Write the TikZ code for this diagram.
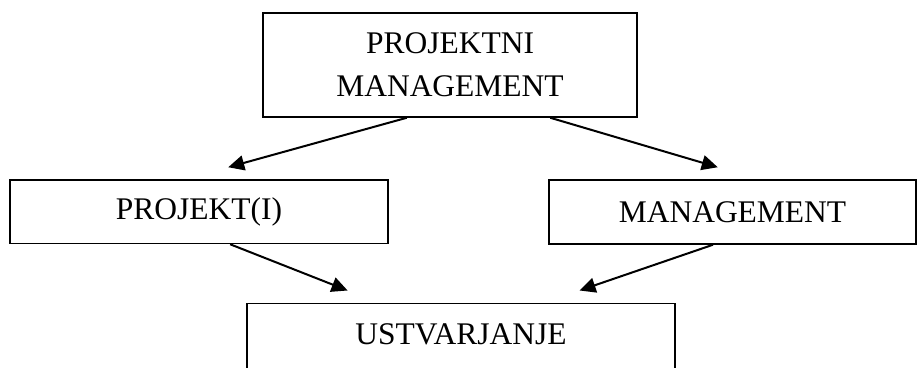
\documentclass[tikz,border=0pt]{standalone}
\usepackage{fontspec}
\setmainfont{Liberation Serif}
\usetikzlibrary{arrows.meta,calc}
\begin{document}
\begin{tikzpicture}[x=1pt,y=-1pt,
 box/.style={draw,line width=1.5pt,align=center,inner sep=0pt,font=\fontsize{31.5}{43}\selectfont},
 arr/.style={-{Triangle[length=16pt,width=15pt]},line width=2pt}]
\clip (0,0) rectangle (917,367);
\node[box,minimum width=374,minimum height=104] (pm) at (450,65) {PROJEKTNI\\MANAGEMENT};
\node[box,minimum width=378,minimum height=63.5] (proj) at (199,211.75) {PROJEKT(I)};
\node[box,minimum width=367,minimum height=64] (mgmt) at (732.5,212) {MANAGEMENT};
\node[box,anchor=north,minimum width=428,text height=21pt,text depth=60pt,inner ysep=20pt] (ustv) at (461,302.5) {USTVARJANJE};
\draw[arr] ($(pm.south west)!0.385!(pm.south east)$) -- ($(proj.north west)!0.577!(proj.north east)+(0,-12)$);
\draw[arr] ($(pm.south west)!0.767!(pm.south east)$) -- ($(mgmt.north west)!0.46!(mgmt.north east)+(0,-12)$);
\draw[arr] ($(proj.south west)!0.582!(proj.south east)$) -- ($(ustv.north west)!0.236!(ustv.north east)+(0,-12)$);
\draw[arr] ($(mgmt.south west)!0.447!(mgmt.south east)$) -- ($(ustv.north west)!0.776!(ustv.north east)+(0,-12)$);
\end{tikzpicture}
\end{document}
